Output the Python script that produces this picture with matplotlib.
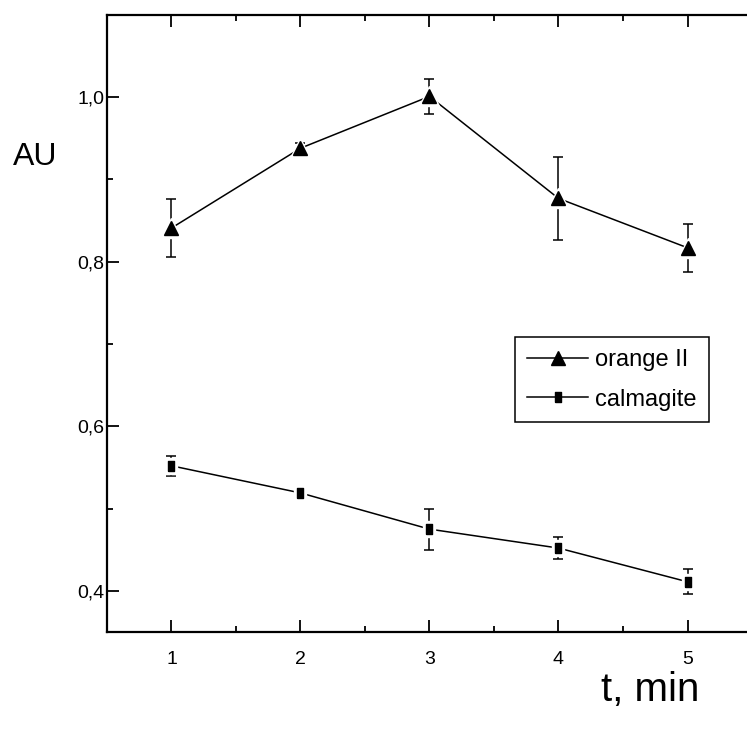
import matplotlib
matplotlib.use("Agg")
import matplotlib.pyplot as plt
from matplotlib.lines import Line2D

# data
t_min = [1, 2, 3, 4, 5]
orange_ii = [0.841, 0.938, 1.001, 0.877, 0.817]
orange_ii_err = [0.035, 0.006, 0.021, 0.050, 0.029]
calmagite = [0.552, 0.519, 0.475, 0.452, 0.411]
calmagite_err = [0.012, 0.004, 0.025, 0.013, 0.015]

y_ticks = [0.4, 0.6, 0.8, 1.0]
y_ticklabels = ["0,4", "0,6", "0,8", "1,0"]

plt.rcParams["font.family"] = ["Liberation Sans", "DejaVu Sans"]

# tall thin box used for the calmagite points
RECT = [(-0.33, -0.5), (0.33, -0.5), (0.33, 0.5), (-0.33, 0.5), (-0.33, -0.5)]
RECT_HALO = [(-0.4, -0.5), (0.4, -0.5), (0.4, 0.5), (-0.4, 0.5), (-0.4, -0.5)]

fig = plt.figure(figsize=(7.47, 7.29), dpi=100)
ax = fig.add_axes([0.1432, 0.1331, 0.8635, 0.8464])


def draw_series(y, err, marker, ms, halo_marker, halo_ms):
    ax.errorbar(t_min, y, yerr=err, fmt="-", color="black", lw=1.1,
                elinewidth=1.1, capsize=3.3, capthick=1.1, zorder=2)
    # white halo so the line stops short of each point, like the original
    ax.plot(t_min, y, ls="none", marker=halo_marker, ms=halo_ms,
            color="white", zorder=3)
    ax.plot(t_min, y, ls="none", marker=marker, ms=ms,
            color="black", zorder=4)


draw_series(orange_ii, orange_ii_err, "^", 9.5, "^", 15)
draw_series(calmagite, calmagite_err, RECT, 6.8, RECT_HALO, 11)

ax.set_xlim(0.5, 5.5)
ax.set_ylim(0.35, 1.1)
ax.set_xticks(t_min)
ax.set_xticks([1.5, 2.5, 3.5, 4.5], minor=True)
ax.set_yticks(y_ticks)
ax.set_yticklabels(y_ticklabels)
ax.set_yticks([0.5, 0.7, 0.9], minor=True)

ax.tick_params(which="both", direction="in", top=True, right=False,
               width=1.3, labelsize=14, colors="black")
ax.tick_params(which="major", length=8.5)
ax.tick_params(which="minor", length=4.3)
ax.tick_params(axis="x", pad=14)
ax.tick_params(axis="y", pad=2)
ax.spines["right"].set_visible(False)
for sp in ax.spines.values():
    sp.set_linewidth(1.6)

ax.set_xlabel("t, min", fontsize=29)
ax.xaxis.set_label_coords(0.842, -0.064)
ax.set_ylabel("AU", fontsize=23, rotation=0, ha="center", va="center")
ax.yaxis.set_label_coords(-0.112, 0.77)

handles = [
    Line2D([], [], color="black", lw=1.1, marker="^", ms=9.5),
    Line2D([], [], color="black", lw=1.1, marker=RECT, ms=6.8),
]
leg = ax.legend(handles, ["orange II", "calmagite"], loc="upper left",
                bbox_to_anchor=(0.6326, 0.478), borderaxespad=0,
                fancybox=False, framealpha=1, edgecolor="black",
                prop={"size": 17},
                handlelength=2.6, handletextpad=0.3, labelspacing=0.75,
                borderpad=0.5)
leg.get_frame().set_linewidth(1.1)

fig.savefig("out.png", dpi=100)
